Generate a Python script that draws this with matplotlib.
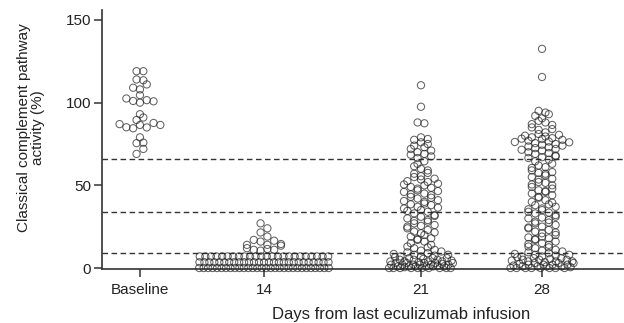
import numpy as np
import matplotlib
matplotlib.use("Agg")
import matplotlib.pyplot as plt

# data (values in %)
categories = ["Baseline", "14", "21", "28"]
cutoffs = [66, 34, 9]

baseline = [119, 119, 111, 113.5, 114, 109, 108, 104.5, 101.5, 101, 100.8,
            102.5, 100, 93, 91, 89.5, 87.7, 87, 85, 86.5, 86.5, 85.1, 84.5,
            79, 75.5, 75.8, 72, 69]

day14 = ([0] * 30 + [3.5] * 27 + [7] * 24 +
         [10.5, 11, 11, 11.5, 12, 13.5, 14, 14, 14.5, 16, 16.5, 17,
          19, 21.5, 24, 27])

day21 = [110.5, 97.5, 88, 87.5,
         79, 78, 77.5, 76, 75, 74, 73, 72, 71, 70, 69, 68.5, 67.5, 66.5,
         64.5, 63, 61.5, 60, 59, 57.5, 57, 55.5, 55, 54, 53.5, 52.5, 52,
         51, 50.5, 50, 49, 48.5, 48, 47, 46.5, 46, 45, 44.5, 44, 43, 42.5,
         42, 41, 40.5, 40, 39, 38.5, 38, 37, 36.5, 36, 35, 34.5, 34, 33,
         32, 31.5, 31, 30, 29, 28.5, 28, 27, 26, 25.5, 25, 24, 23, 22,
         21.5, 21, 20, 19, 18, 17.5, 17, 16, 15, 14, 13, 12.5, 12, 11, 10.5,
         10, 9.5,
         9, 8.5, 8, 8, 7.5, 7, 7, 6.5, 6, 6, 6, 5.5, 5, 5, 5, 4.5, 4, 4, 4,
         4, 3.5, 3, 3, 3, 3, 3, 2.5, 2, 2, 2, 2, 2, 2, 1.5, 1, 1, 1, 1, 1,
         1, 0.5, 0, 0, 0, 0, 0, 0, 0, 0, 0, 0]

day28 = [132.5, 115.5,
         95, 94, 93, 92, 90.5, 89, 88, 87, 86.5, 85, 84, 83.5,
         82, 81, 80.5, 80, 79.5, 79, 78.5, 78.2, 78, 77.5, 77, 76.5,
         76.2, 76, 75.5, 75, 74.5, 74, 73.5, 73, 72.5, 72, 71.5, 71,
         70, 69.5, 69, 68, 67.5, 67, 66.5,
         65.5, 64.5, 63, 62, 61, 60.5, 59, 58, 57.5, 57, 56,
         55, 54, 53.5, 52, 51.5, 50.5, 50, 49, 48, 47, 46.5,
         46, 45, 44, 43, 42.5, 41, 40, 39.5, 38.5, 38, 37,
         36, 35.5, 35,
         34, 33.5, 33, 32, 31, 30.5, 30, 29, 28, 27.5, 27, 26,
         25, 24.5, 24, 23, 22, 21.5, 21, 20, 19, 18.5, 18,
         17.5, 17, 16, 15, 14.5, 14, 13, 12.5, 12, 11, 10.5, 10,
         9.5, 9, 8.5, 8, 8, 7.5, 7, 7, 6.5, 6, 6, 5.5, 5, 5, 5, 4.5, 4, 4,
         4, 3.5, 3, 3, 3, 2.5, 2, 2, 2, 2, 1.5, 1, 1, 1, 1, 0.5, 0, 0, 0,
         0, 0, 0, 0, 0]

groups = [baseline, day14, day21, day28]

# layout
cat_pos = [0, 1, 2.266, 3.242]
max_width_px = [50, 134, 66, 66]
row_height = 3.3     # value units per row
step_px = 6.8        # horizontal spacing in a row

plt.rcParams["font.family"] = ["Liberation Sans", "DejaVu Sans"]

fig = plt.figure(figsize=(6.24, 3.23), dpi=100)
ax = fig.add_axes([102 / 624, 54 / 323, 522 / 624, 259 / 323])
ax.set_xlim(-0.306, 3.903)
ax.set_ylim(-0.6, 156)

px_per_x = (522 / (3.903 + 0.306))


def spread(vals, xc, max_w):
    vals = np.sort(np.asarray(vals, dtype=float))
    # rows: consecutive values within row_height of the row's first value
    rows = np.zeros(len(vals), dtype=int)
    start, r = vals[0], 0
    for i, v in enumerate(vals):
        if v - start >= row_height:
            r += 1
            start = v
        rows[i] = r
    xs = np.zeros_like(vals)
    for r in np.unique(rows):
        idx = np.where(rows == r)[0]
        n = len(idx)
        sp = min(step_px, max_w / max(n, 1))
        offs = (np.arange(n) - (n - 1) / 2) * sp
        # mix the slots so a row is not sorted left to right
        order = np.argsort((np.arange(n) * 0.618 + 0.3 * r) % 1.0)
        xs[idx] = xc + offs[order] / px_per_x
    return xs, vals


for vals, xc, mw in zip(groups, cat_pos, max_width_px):
    xs, ys = spread(vals, xc, mw)
    ax.scatter(xs, ys, s=27, facecolors="none", edgecolors="#222222",
               linewidths=0.75, alpha=0.7, clip_on=False, zorder=3)

for c in cutoffs:
    ax.axhline(c, color="#333333", lw=1.0, ls=(0, (4, 2.5)), zorder=2)

for side in ["top", "right"]:
    ax.spines[side].set_visible(False)
for side in ["left", "bottom"]:
    ax.spines[side].set_linewidth(1.2)
    ax.spines[side].set_color("#333333")

ax.set_yticks([0, 50, 100, 150])
ax.set_xticks(cat_pos)
ax.set_xticklabels(categories)
ax.tick_params(axis="both", labelsize=11, length=6, width=1.1,
               color="#333333", labelcolor="#222222")
ax.tick_params(axis="y", pad=2)
ax.tick_params(axis="x", pad=4)

ax.set_ylabel("Classical complement pathway\nactivity (%)", fontsize=11,
              color="#222222", linespacing=1.0)
ax.yaxis.set_label_coords(-0.11, 0.545)
ax.set_xlabel("Days from last eculizumab infusion", fontsize=12,
              color="#222222")
ax.xaxis.set_label_coords(0.573, -0.145)

fig.savefig("out.png", dpi=100)
